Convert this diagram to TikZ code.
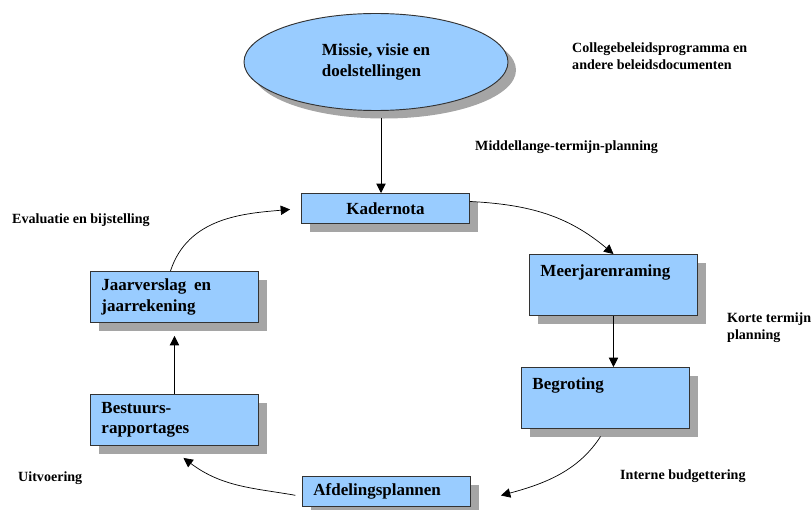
\documentclass[tikz,border=0pt]{standalone}
\usepackage{fontspec}
\setmainfont{Liberation Serif}
\usetikzlibrary{positioning,shapes.geometric,shadows,arrows.meta,calc}
\definecolor{boxblue}{RGB}{153,204,255}
\definecolor{shadowgray}{RGB}{165,165,165}

\tikzset{
  boxstyle/.style={draw=black!80, fill=boxblue, line width=0.8pt, anchor=north west,
    text width=4.38cm, inner xsep=0.33cm, inner ysep=0.1cm, align=left,
    font=\fontsize{14.5}{17.4}\selectfont\bfseries,
    drop shadow={shadow xshift=0.27cm, shadow yshift=-0.27cm, fill=shadowgray, opacity=1}},
  topbox/.style={text height=0.56cm, text depth=1.07cm},
  lbl/.style={font=\fontsize{12}{14.5}\selectfont\bfseries, align=left, anchor=north west, inner sep=0pt},
  arr/.style={-{Triangle[length=0.28cm,width=0.28cm]}, line width=0.6pt}
}

\begin{document}
\begin{tikzpicture}[x=0.03cm, y=0.03cm]
	\useasboundingbox (0,0) rectangle (812,-510);
	% ellipse on top
	\node[ellipse, draw=black!80, fill=boxblue, line width=0.8pt, minimum width=7.92cm, minimum height=2.91cm,
		align=left, font=\fontsize{14.5}{18.5}\selectfont\bfseries,
		drop shadow={shadow xshift=0.24cm, shadow yshift=-0.24cm, fill=shadowgray, opacity=1}] (mvd) at (376,-62) {Missie, visie en\\doelstellingen};
	% boxes of the cycle
	\node[boxstyle, align=center, minimum height=0.9cm] (kader) at (301,-193) {Kadernota};
	\node[boxstyle, topbox] (meer) at (529,-254) {Meerjarenraming};
	\node[boxstyle, topbox] (begr) at (521,-367) {Begroting};
	\node[boxstyle, minimum height=0.9cm] (afdel) at (302,-476) {Afdelingsplannen};
	\node[boxstyle, minimum height=1.53cm] (best) at (90,-394) {Bestuurs-\\rapportages};
	\node[boxstyle, minimum height=1.53cm] (jaar) at (90,-271) {Jaarverslag\hspace{0.45em}en\\jaarrekening};
	% labels
	\node[lbl] (college) at (572,-43) {Collegebeleidsprogramma en\\andere beleidsdocumenten};
	\node[lbl] (middel) at (475,-141) {Middellange-termijn-planning};
	\node[lbl] (evalu) at (12,-214) {Evaluatie en bijstelling};
	\node[lbl] (korte) at (727,-313) {Korte termijn\\planning};
	\node[lbl] (intern) at (620,-470) {Interne budgettering};
	\node[lbl] (uitvoer) at (18,-472) {Uitvoering};
	% connectors
	\coordinate (mvdout) at ([xshift=0.15cm]mvd.south);
	\coordinate (afdin) at ([xshift=0.9cm,yshift=-0.12cm]afdel.east);
	\coordinate (bestin) at ([xshift=0.27cm,yshift=-0.36cm]best.south);
	\draw[arr, shorten <=0.2cm] (mvdout) -- (mvdout |- kader.north);
	\draw[arr] ([yshift=0.21cm]kader.east) to[out=-3, in=140] (meer.north);
	\draw[arr] (meer.south) -- (meer.south |- begr.north);
	\draw[arr, shorten <=0.27cm] (begr.south) to[out=-123, in=15] (afdin);
	\draw[arr, shorten <=0.2cm] ([yshift=-0.15cm]afdel.west) to[out=170, in=-37] (bestin);
	\draw[arr, shorten >=0.39cm] (best.north) -- (jaar.south);
	\draw[arr, shorten >=0.33cm] ([xshift=-0.12cm]jaar.north) to[out=72, in=185] (kader.west);
\end{tikzpicture}
\end{document}
